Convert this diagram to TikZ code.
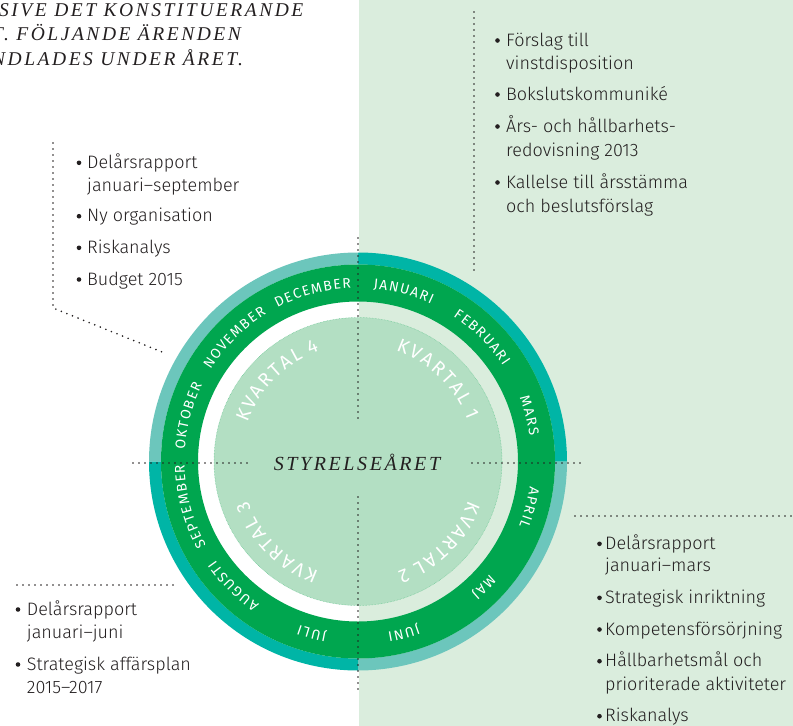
\documentclass[tikz,border=0pt]{standalone}
\usepackage{fontspec}
\setmainfont{Fira Sans}[UprightFont={* Light}]
\newfontfamily\monthfont{Fira Sans}
\newfontfamily\kvfont{Fira Sans}
\newfontfamily\headfont{Liberation Serif}[LetterSpace=13]
\usetikzlibrary{decorations.text}
\definecolor{bggreen}{HTML}{DAEDDD}
\definecolor{tealA}{HTML}{00B5A6}
\definecolor{tealB}{HTML}{6CC6BC}
\definecolor{ringgreen}{HTML}{00A64F}
\definecolor{diskgreen}{HTML}{B3DFC3}
\definecolor{ink}{HTML}{231F20}
\def\mk{\kern1.4pt}
\def\kk{\kern2.2pt}
\tikzset{
  dotline/.style={draw=ink, line width=1.8pt, dash pattern=on 0pt off 6pt, line cap=round},
  itemtext/.style={anchor=base west, inner sep=0pt, text=ink, font=\fontsize{18}{21}\selectfont},
  bul/.style={circle, fill=ink, inner sep=0pt, minimum size=4.6pt},
  headtext/.style={anchor=base west, inner sep=0pt, text=ink, font=\headfont\itshape\fontsize{19.5}{22}\selectfont},
}
\newcommand{\monthlabel}[2]{%
  \path[decorate, decoration={text along path, text align=center, text color=white,
     text={|\monthfont\fontsize{14}{16}\selectfont|#2}}]
     (#1+28:173.5pt) arc[start angle=#1+28, end angle=#1-28, radius=173.5pt];}
\newcommand{\kvlabel}[2]{%
  \path[decorate, decoration={text along path, text align=center, text color=white,
     text={|\kvfont\fontsize{19}{21}\selectfont|#2}}]
     (#1+40:117pt) arc[start angle=#1+40, end angle=#1-40, radius=117pt];}
\begin{document}
\begin{tikzpicture}[x=1pt,y=1pt]
\useasboundingbox (0,0) rectangle (793,-726);
\fill[white] (0,0) rectangle (793,-726);
\fill[bggreen] (359,0) rectangle (793,-726);

\begin{scope}[shift={(358,-461.5)}]
  % outer teal ring, by quadrant
  \foreach \a/\c in {0/tealA,90/tealB,180/tealA,270/tealB}{
    \fill[\c] (\a:209pt) arc[start angle=\a, end angle=\a+90, radius=209pt]
      -- (\a+90:197pt) arc[start angle=\a+90, end angle=\a, radius=197pt] -- cycle;
  }
  % green ring
  \fill[ringgreen, even odd rule] (0,0) circle[radius=197pt] (0,0) circle[radius=160pt];
  % inner disk
  \fill[diskgreen] (0,0) circle[radius=144pt];
  \draw[ringgreen!45!diskgreen, line width=0.5pt, densely dotted] (0,0) circle[radius=144pt];

  \monthlabel{75}{{J\mk}{A\mk}{N\mk}{U\mk}{A\mk}{R\mk}{I}}
  \monthlabel{45}{{F\mk}{E\mk}{B\mk}{R\mk}{U\mk}{A\mk}{R\mk}{I}}
  \monthlabel{15}{{M\mk}{A\mk}{R\mk}{S}}
  \monthlabel{-15}{{A\mk}{P\mk}{R\mk}{I\mk}{L}}
  \monthlabel{-45}{{M\mk}{A\mk}{J}}
  \monthlabel{-75}{{J\mk}{U\mk}{N\mk}{I}}
  \monthlabel{-105}{{J\mk}{U\mk}{L\mk}{I}}
  \monthlabel{-135}{{A\mk}{U\mk}{G\mk}{U\mk}{S\mk}{T\mk}{I}}
  \monthlabel{-165}{{S\mk}{E\mk}{P\mk}{T\mk}{E\mk}{M\mk}{B\mk}{E\mk}{R}}
  \monthlabel{165}{{O\mk}{K\mk}{T\mk}{O\mk}{B\mk}{E\mk}{R}}
  \monthlabel{135}{{N\mk}{O\mk}{V\mk}{E\mk}{M\mk}{B\mk}{E\mk}{R}}
  \monthlabel{105}{{D\mk}{E\mk}{C\mk}{E\mk}{M\mk}{B\mk}{E\mk}{R}}

  \kvlabel{46}{{K\kk}{V\kk}{A\kk}{R\kk}{T\kk}{A\kk}{L\kk\kern5pt}{1}}
  \kvlabel{-45}{{K\kk}{V\kk}{A\kk}{R\kk}{T\kk}{A\kk}{L\kk\kern5pt}{2}}
  \kvlabel{-135}{{K\kk}{V\kk}{A\kk}{R\kk}{T\kk}{A\kk}{L\kk\kern5pt}{3}}
  \kvlabel{135}{{K\kk}{V\kk}{A\kk}{R\kk}{T\kk}{A\kk}{L\kk\kern5pt}{4}}
\end{scope}

% central title
\node[anchor=base, inner sep=0pt, text=ink, font=\headfont\itshape\fontsize{20}{22}\selectfont] (title) at (357,-470) {STYRELSEÅRET};

% central dotted cross
\coordinate (vt1) at (358,-238); \coordinate (vt2) at (358,-418);
\coordinate (vb1) at (358,-497); \coordinate (vb2) at (358,-690);
\coordinate (hl1) at (133,-463); \coordinate (hl2) at (250,-463);
\coordinate (hr1) at (472,-463); \coordinate (hr2) at (585,-463);
\path[dotline] (vt1) -- (vt2);
\path[dotline] (vb1) -- (vb2);
\path[dotline] (hl1) -- (hl2);
\path[dotline] (hr1) -- (hr2);

% callout leaders
\coordinate (tr1) at (474,-12); \coordinate (tr2) at (474,-272);
\path[dotline] (tr1) -- (tr2);
\coordinate (tl1) at (53,-143); \coordinate (tl2) at (53,-308); \coordinate (tl3) at (162,-352);
\path[dotline] (tl1) -- (tl2) -- (tl3);
\coordinate (bl1) at (17,-585); \coordinate (bl2) at (175,-585);
\path[dotline] (bl1) -- (bl2);
\coordinate (br1) at (575,-516); \coordinate (br2) at (793,-516);
\path[dotline] (br1) -- (br2);

% header text (cut at left edge)
\node[headtext] (h1) at (-1,-16.7) {SIVE DET KONSTITUERANDE};
\node[headtext] (h2) at (-8,-40.7) {T. FÖLJANDE ÄRENDEN};
\node[headtext] (h3) at (-8,-65) {NDLADES UNDER ÅRET.};

% top-right list
\foreach \n/\y/\t in {a1/46/Förslag till, a2/100/Bokslutskommuniké, a3/132/Års- och hållbarhets-, a4/188/Kallelse till årsstämma}
  {\node[bul] (b\n) at (497.5,-\y+5.5) {}; \node[itemtext] (\n) at (506,-\y) {\t};}
\foreach \n/\y/\t in {a1c/69.5/vinstdisposition, a3c/156.5/redovisning 2013, a4c/212/och beslutsförslag}
  {\node[itemtext] (\n) at (506,-\y) {\t};}

% top-left list
\foreach \n/\y/\t in {c1/168.3/Delårsrapport, c2/221.7/Ny organisation, c3/253.3/Riskanalys, c4/285/Budget 2015}
  {\node[bul] (b\n) at (79,-\y+5.5) {}; \node[itemtext] (\n) at (87,-\y) {\t};}
\node[itemtext] (c1c) at (87,-191) {januari–september};

% bottom-left list
\foreach \n/\y/\t in {d1/615/Delårsrapport, d2/670/Strategisk affärsplan}
  {\node[bul] (b\n) at (18,-\y+5.5) {}; \node[itemtext] (\n) at (26.7,-\y) {\t};}
\node[itemtext] (d1c) at (26.7,-638.3) {januari–juni};
\node[itemtext] (d2c) at (26.7,-693.3) {2015–2017};

% bottom-right list
\foreach \n/\y/\t in {e1/549.3/Delårsrapport, e2/603.3/Strategisk inriktning, e3/635/Kompetensförsörjning, e4/666.7/Hållbarhetsmål och, e5/721.7/Riskanalys}
  {\node[bul] (b\n) at (599.5,-\y+5.5) {}; \node[itemtext] (\n) at (605,-\y) {\t};}
\node[itemtext] (e1c) at (605,-571.7) {januari–mars};
\node[itemtext] (e4c) at (605,-690) {prioriterade aktiviteter};
\end{tikzpicture}
\end{document}
